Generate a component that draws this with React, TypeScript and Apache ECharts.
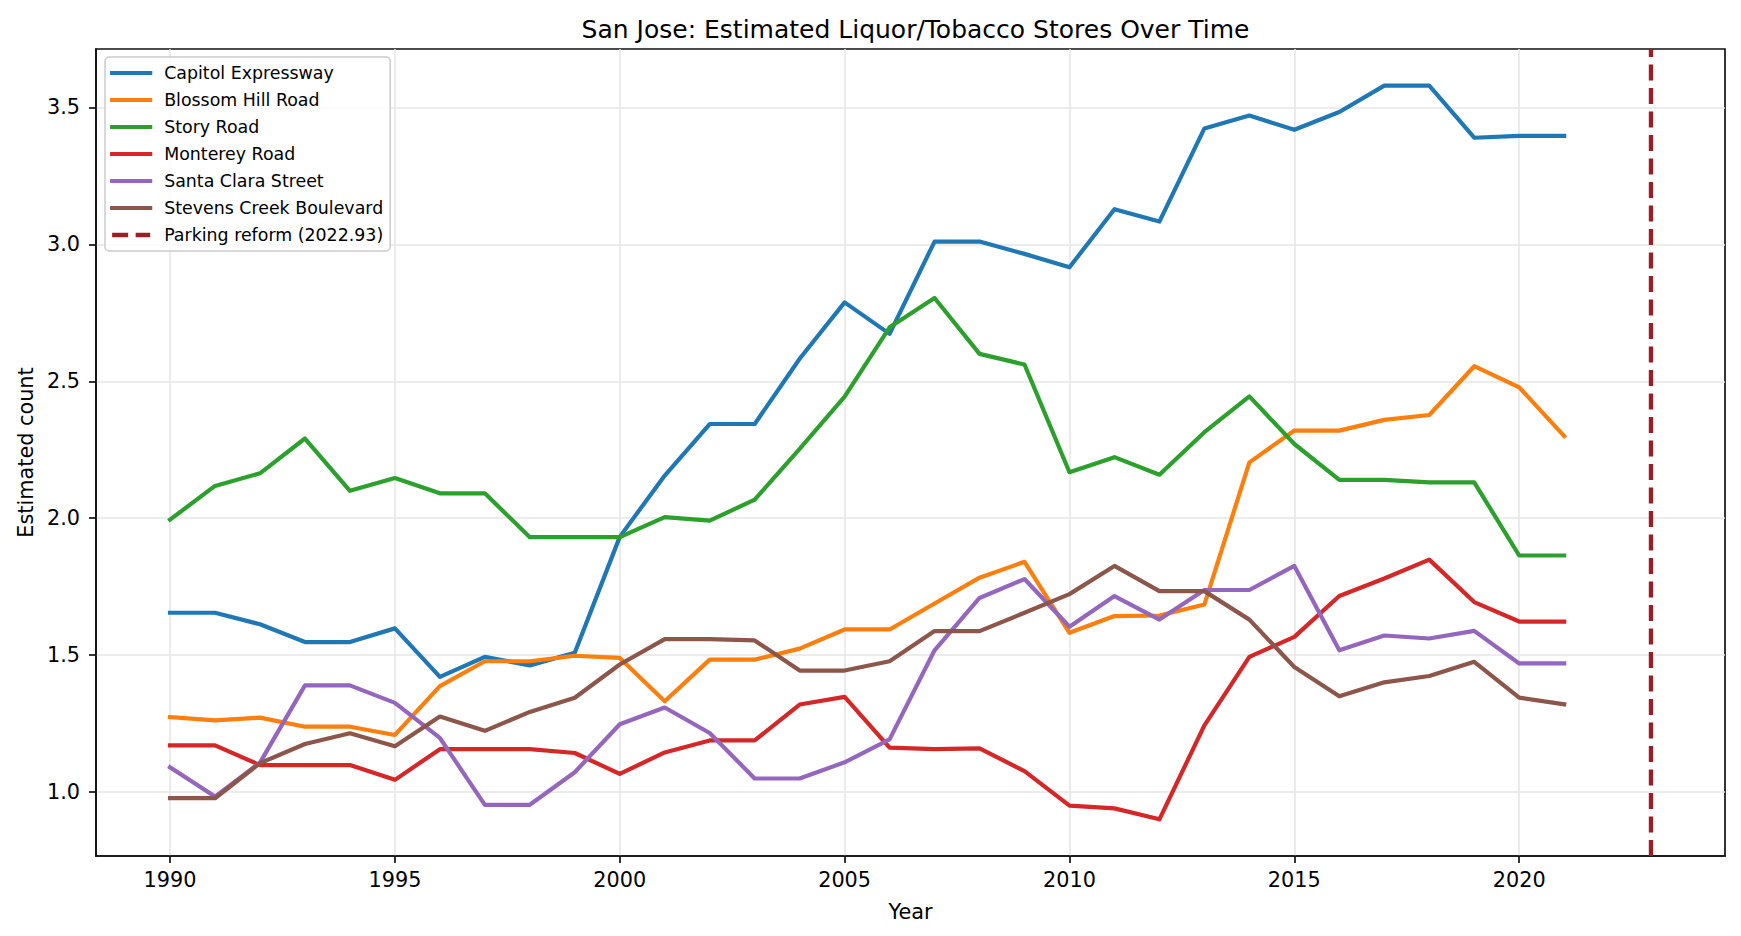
import React, { useEffect, useRef } from "react";
import * as echarts from "echarts";

const YEARS = [
  1990, 1991, 1992, 1993, 1994, 1995, 1996, 1997, 1998, 1999,
  2000, 2001, 2002, 2003, 2004, 2005, 2006, 2007, 2008, 2009,
  2010, 2011, 2012, 2013, 2014, 2015, 2016, 2017, 2018, 2019,
  2020, 2021,
];

const CAPITOL_EXPRESSWAY = [
  1.655, 1.655, 1.613, 1.548, 1.548, 1.598, 1.421, 1.494, 1.463, 1.509,
  1.932, 2.156, 2.344, 2.344, 2.582, 2.788, 2.673, 3.010, 3.010, 2.965,
  2.916, 3.128, 3.083, 3.423, 3.470, 3.418, 3.483, 3.579, 3.579, 3.389,
  3.396, 3.396,
];
const BLOSSOM_HILL_ROAD = [
  1.274, 1.262, 1.272, 1.239, 1.239, 1.209, 1.387, 1.478, 1.478, 1.498,
  1.490, 1.332, 1.484, 1.484, 1.524, 1.594, 1.594, 1.689, 1.783, 1.841,
  1.582, 1.643, 1.645, 1.685, 2.204, 2.320, 2.320, 2.359, 2.377, 2.555,
  2.478, 2.300,
];
const STORY_ROAD = [
  1.995, 2.118, 2.164, 2.291, 2.100, 2.147, 2.091, 2.091, 1.931, 1.931,
  1.931, 2.004, 1.991, 2.068, 2.253, 2.444, 2.697, 2.804, 2.600, 2.561,
  2.168, 2.223, 2.159, 2.314, 2.445, 2.271, 2.140, 2.140, 2.131, 2.131,
  1.864, 1.864,
];
const MONTEREY_ROAD = [
  1.171, 1.171, 1.099, 1.099, 1.099, 1.045, 1.157, 1.157, 1.157, 1.143,
  1.067, 1.145, 1.189, 1.189, 1.320, 1.348, 1.163, 1.157, 1.160, 1.077,
  0.951, 0.941, 0.901, 1.244, 1.494, 1.567, 1.716, 1.780, 1.849, 1.694,
  1.623, 1.623,
];
const SANTA_CLARA_STREET = [
  1.091, 0.984, 1.108, 1.390, 1.390, 1.326, 1.198, 0.954, 0.954, 1.073,
  1.248, 1.309, 1.216, 1.050, 1.050, 1.109, 1.193, 1.518, 1.709, 1.778,
  1.604, 1.716, 1.630, 1.738, 1.738, 1.826, 1.518, 1.572, 1.561, 1.589,
  1.470, 1.470,
];
const STEVENS_CREEK_BOULEVARD = [
  0.978, 0.978, 1.106, 1.176, 1.215, 1.168, 1.276, 1.224, 1.293, 1.345,
  1.466, 1.559, 1.559, 1.554, 1.444, 1.444, 1.478, 1.588, 1.588, 1.655,
  1.723, 1.826, 1.734, 1.734, 1.630, 1.457, 1.350, 1.401, 1.424, 1.476,
  1.345, 1.321,
];

const SERIES_NAMES = [
  "Capitol Expressway",
  "Blossom Hill Road",
  "Story Road",
  "Monterey Road",
  "Santa Clara Street",
  "Stevens Creek Boulevard",
];
const SERIES_VALUES = [
  CAPITOL_EXPRESSWAY,
  BLOSSOM_HILL_ROAD,
  STORY_ROAD,
  MONTEREY_ROAD,
  SANTA_CLARA_STREET,
  STEVENS_CREEK_BOULEVARD,
];
const SERIES_COLORS = ["#1f77b4", "#ff7f0e", "#2ca02c", "#d62728", "#9467bd", "#8c564b"];

const REFORM_YEAR = 2022.93;
const REFORM_LABEL = "Parking reform (2022.93)";
const REFORM_COLOR = "#9e1c23";
const REFORM_DASH = [16, 7.5];

const X_TICKS = [1990, 1995, 2000, 2005, 2010, 2015, 2020];
const Y_TICKS = [1.0, 1.5, 2.0, 2.5, 3.0, 3.5];

const TITLE = "San Jose: Estimated Liquor/Tobacco Stores Over Time";
const X_NAME = "Year";
const Y_NAME = "Estimated count";

const FONT = "'DejaVu Sans', sans-serif";

export default function App() {
  const ref = useRef<HTMLDivElement>(null);

  useEffect(() => {
    if (!ref.current) return;
    const chart = echarts.init(ref.current, null, { renderer: "svg" });

    const all = SERIES_VALUES.flat();
    const dMin = Math.min(...all);
    const dMax = Math.max(...all);
    const yPad = (dMax - dMin) * 0.05;
    const yMin = dMin - yPad;
    const yMax = dMax + yPad;
    const xLo = YEARS[0];
    const xHi = REFORM_YEAR;
    const xPad = (xHi - xLo) * 0.05;
    const xMin = xLo - xPad;
    const xMax = xHi + xPad;

    const lineSeries = SERIES_NAMES.map((name, i) => ({
      name,
      type: "line",
      data: YEARS.map((y, j) => [y, SERIES_VALUES[i][j]]),
      showSymbol: false,
      symbol: "none",
      color: SERIES_COLORS[i],
      lineStyle: { color: SERIES_COLORS[i], width: 4.2, join: "round", cap: "square" },
      z: 3,
    }));

    const reformSeries = {
      name: REFORM_LABEL,
      type: "line",
      data: [
        [REFORM_YEAR, yMin],
        [REFORM_YEAR, yMax],
      ],
      showSymbol: false,
      symbol: "none",
      color: REFORM_COLOR,
      lineStyle: { color: REFORM_COLOR, width: 4.3, type: REFORM_DASH },
      z: 3,
    };

    const legendData = [
      ...SERIES_NAMES.map((name, i) => ({
        name,
        itemStyle: { opacity: 0 },
        lineStyle: { color: SERIES_COLORS[i], width: 4.2, type: "solid" },
      })),
      {
        name: REFORM_LABEL,
        itemStyle: { opacity: 0 },
        lineStyle: { color: REFORM_COLOR, width: 4.3, type: REFORM_DASH },
      },
    ];

    chart.setOption({
      animation: false,
      backgroundColor: "#ffffff",
      textStyle: { fontFamily: FONT },
      title: {
        text: TITLE,
        left: 910.5,
        top: 12,
        textAlign: "center",
        textStyle: { fontFamily: FONT, fontSize: 25, fontWeight: "normal", color: "#000" },
      },
      legend: {
        orient: "vertical",
        left: 105,
        top: 57,
        padding: [7, 7, 7, 5],
        itemWidth: 38,
        itemHeight: 14,
        itemGap: 9,
        backgroundColor: "rgba(255,255,255,0.8)",
        borderColor: "#cccccc",
        borderWidth: 1.5,
        borderRadius: 4,
        itemStyle: { opacity: 0 },
        textStyle: {
          fontFamily: FONT,
          fontSize: 17.4,
          lineHeight: 18,
          color: "#000",
          padding: [0, 0, 0, 9],
        },
        data: legendData,
      },
      grid: {
        left: 96,
        right: 16,
        top: 49,
        bottom: 80,
        show: true,
        borderColor: "#111",
        borderWidth: 1.7,
        backgroundColor: "transparent",
        outerBoundsMode: "none",
      },
      xAxis: {
        type: "value",
        min: xMin,
        max: xMax,
        name: X_NAME,
        nameLocation: "middle",
        nameGap: 45,
        nameTextStyle: { fontFamily: FONT, fontSize: 20.8, color: "#000" },
        axisLine: { show: true, onZero: false, lineStyle: { color: "#111", width: 1.7 } },
        axisTick: {
          show: true,
          length: 7,
          inside: false,
          customValues: X_TICKS,
          lineStyle: { color: "#111", width: 1.7 },
        },
        axisLabel: {
          customValues: X_TICKS,
          fontFamily: FONT,
          fontSize: 20.8,
          color: "#000",
          margin: 13,
          formatter: (v: number) => String(Math.round(v)),
        },
        splitLine: { show: true, lineStyle: { color: "#e6e6e6", width: 1.6 } },
      },
      yAxis: {
        type: "value",
        min: yMin,
        max: yMax,
        name: Y_NAME,
        nameLocation: "middle",
        nameGap: 60,
        nameTextStyle: { fontFamily: FONT, fontSize: 20.8, color: "#000" },
        axisLine: { show: true, onZero: false, lineStyle: { color: "#111", width: 1.7 } },
        axisTick: {
          show: true,
          length: 7,
          inside: false,
          customValues: Y_TICKS,
          lineStyle: { color: "#111", width: 1.7 },
        },
        axisLabel: {
          customValues: Y_TICKS,
          fontFamily: FONT,
          fontSize: 20.8,
          color: "#000",
          margin: 16,
          formatter: (v: number) => v.toFixed(1),
        },
        splitLine: { show: true, lineStyle: { color: "#e6e6e6", width: 1.6 } },
      },
      series: [...lineSeries, reformSeries],
    });

    return () => chart.dispose();
  }, []);

  return (
    <div
      ref={ref}
      style={{ position: "fixed", left: 0, top: 0, width: 1741, height: 936, background: "#fff" }}
    />
  );
}
